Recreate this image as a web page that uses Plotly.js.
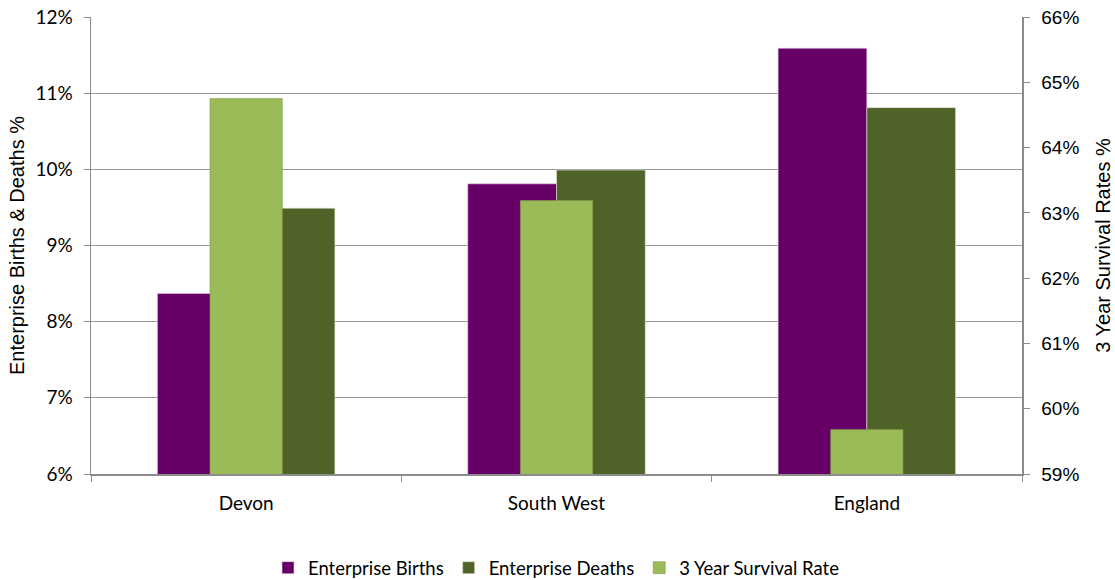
<!DOCTYPE html>
<html>
<head>
<meta charset="utf-8">
<script src="https://cdn.plot.ly/plotly-3.0.1.min.js"></script>
<style>html,body{margin:0;padding:0;background:#fff;}#chart{width:1115px;height:580px;}</style>
</head>
<body>
<div id="chart"></div>
<script>
var categories = ["Devon", "South West", "England"];
var birthsPct = [8.37, 9.81, 11.59];
var deathsPct = [9.49, 9.99, 10.81];
var survivalPct = [64.75, 63.19, 59.68];
var leftTicks = [6, 7, 8, 9, 10, 11, 12];
var leftTickLabels = ["6%", "7%", "8%", "9%", "10%", "11%", "12%"];
var rightTicks = [59, 60, 61, 62, 63, 64, 65, 66];
var rightTickLabels = ["59%", "60%", "61%", "62%", "63%", "64%", "65%", "66%"];

var calib = "Lato, 'Open Sans', sans-serif";
var arial = "'Liberation Sans', Arial, sans-serif";

var traces = [
  {type: "bar", name: "Enterprise Births", x: categories, y: birthsPct, yaxis: "y",
   marker: {color: "#660066", line: {color: "#e8d0e8", width: 0.6}}, offset: -0.286, width: 0.286,
   hoverinfo: "y"},
  {type: "bar", name: "Enterprise Deaths", x: categories, y: deathsPct, yaxis: "y",
   marker: {color: "#4F6228", line: {color: "#dfe6d0", width: 0.6}}, offset: 0, width: 0.286,
   hoverinfo: "y"},
  {type: "bar", name: "3 Year Survival Rate", x: categories, y: survivalPct, yaxis: "y2",
   marker: {color: "#9BBB59", line: {color: "#7f9a48", width: 0.6}}, offset: -0.1165, width: 0.233,
   hoverinfo: "y"}
];

var layout = {
  width: 1115, height: 580,
  margin: {l: 91, r: 93, t: 17, b: 106, autoexpand: false},
  paper_bgcolor: "#fff", plot_bgcolor: "#fff",
  barmode: "overlay",
  showlegend: true,
  legend: {orientation: "h", x: 0.5, xanchor: "center", y: -0.206, yanchor: "middle",
           font: {family: calib, size: 18.5, color: "#000"}, traceorder: "normal"},
  xaxis: {
    type: "category", range: [-0.5, 2.5],
    tickson: "boundaries", ticks: "outside", ticklen: 6, tickcolor: "#8c8c8c",
    showline: true, linecolor: "#8c8c8c", linewidth: 1.5, showgrid: false,
    ticklabelstandoff: 12,
    tickfont: {family: calib, size: 19, color: "#000"}, fixedrange: true
  },
  yaxis: {
    range: [6, 12], tickvals: leftTicks, ticktext: leftTickLabels,
    ticks: "outside", ticklen: 6, tickcolor: "#8c8c8c",
    showline: true, linecolor: "#8c8c8c", linewidth: 1.5,
    showgrid: true, gridcolor: "#999999", gridwidth: 1.3, zeroline: false,
    ticklabelstandoff: 7,
    tickfont: {family: calib, size: 19, color: "#000"},
    title: {text: "Enterprise Births & Deaths %", font: {family: arial, size: 20, color: "#000"}, standoff: 5}
  },
  yaxis2: {
    range: [59, 66], tickvals: rightTicks, ticktext: rightTickLabels,
    overlaying: "y", side: "right",
    ticks: "outside", ticklen: 6, tickcolor: "#8c8c8c",
    showline: true, linecolor: "#8c8c8c", linewidth: 1.5,
    showgrid: false, zeroline: false,
    ticklabelstandoff: 8,
    tickfont: {family: arial, size: 19, color: "#000"},
    title: {text: "3 Year Survival Rates %", font: {family: arial, size: 20, color: "#000"}, standoff: 17}
  }
};

Plotly.newPlot("chart", traces, layout, {displayModeBar: false, staticPlot: true});
</script>
</body>
</html>
